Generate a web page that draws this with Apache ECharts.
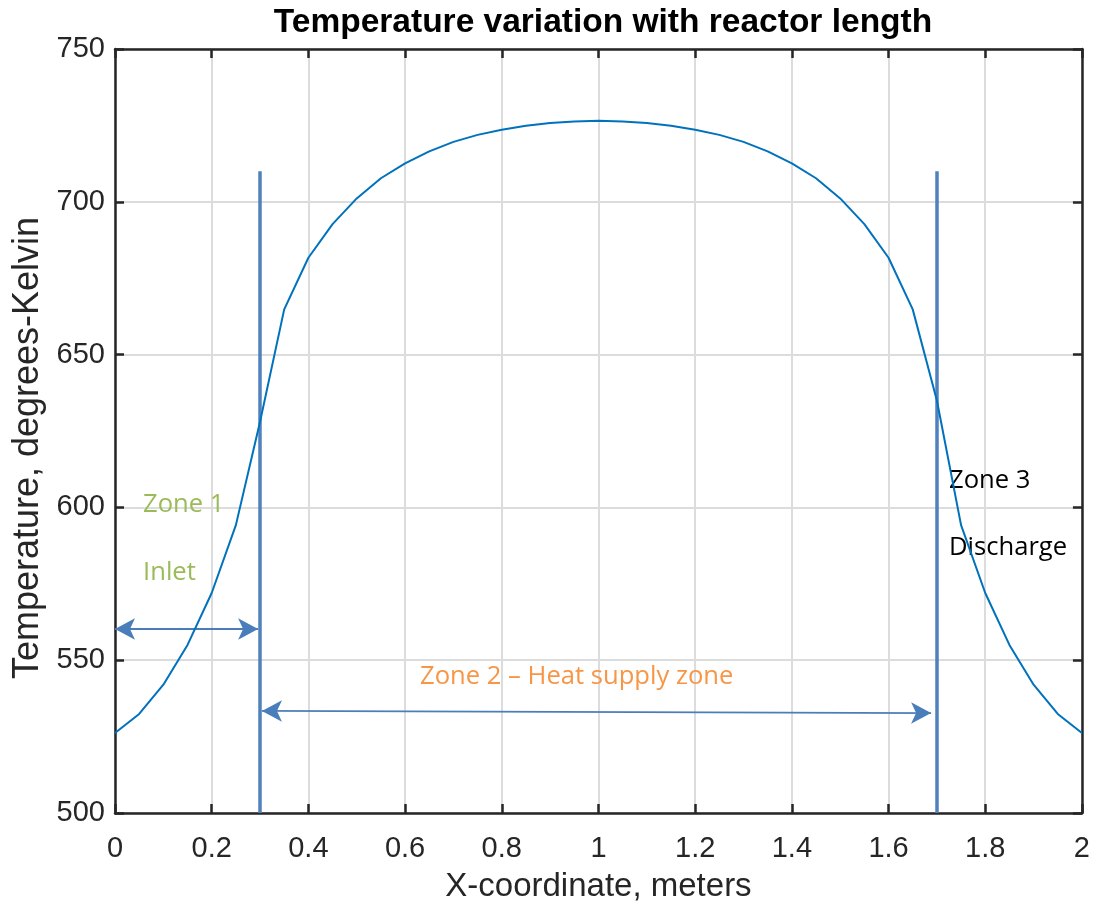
<!DOCTYPE html>
<html>
<head>
<meta charset="utf-8">
<script src="https://cdn.jsdelivr.net/npm/echarts@6/dist/echarts.min.js"></script>
<style>
html,body{margin:0;padding:0;background:#fff;}
#chart{width:1093px;height:908px;}
</style>
</head>
<body>
<div id="chart"></div>
<script>
// ---- data ----
const xValues = [0,0.05,0.1,0.15,0.2,0.25,0.3,0.35,0.4,0.45,0.5,0.55,0.6,0.65,0.7,0.75,0.8,0.85,0.9,0.95,1.0,
  1.05,1.1,1.15,1.2,1.25,1.3,1.35,1.4,1.45,1.5,1.55,1.6,1.65,1.7,1.75,1.8,1.85,1.9,1.95,2.0];
const temperature = [526.2,532.4,542.0,555.0,572.0,594.2,628.0,664.8,681.7,692.7,701.1,707.7,712.6,716.5,719.6,721.9,723.6,724.9,725.8,726.3,726.5,
  726.3,725.8,724.9,723.6,721.9,719.6,716.5,712.6,707.7,701.1,692.7,681.7,664.8,635.0,594.2,572.0,555.0,542.0,532.4,526.2];
const xTicks = [0,0.2,0.4,0.6,0.8,1,1.2,1.4,1.6,1.8,2];
const yTicks = [500,550,600,650,700,750];
// zone boundaries [x, yBottom, yTop]
const zoneBoundaries = [[0.3,500,710],[1.7,500,710]];
// arrows [x1,y1,x2,y2]
const zoneArrows = [[0,560.2,0.296,560.2],[0.304,533.4,1.688,532.7],[1.704,569.0,2.003,569.0]];
// annotations [text, x, y, colour]
const zoneTexts = [
  ['Zone 1',0.058,600.8,'#9bbb59'],
  ['Inlet',0.058,578.5,'#9bbb59'],
  ['Zone 2 \u2013 Heat supply zone',0.631,544.5,'#f79646'],
  ['Zone 3',1.725,608.6,'#000000'],
  ['Discharge',1.725,586.7,'#000000']
];

const chart = echarts.init(document.getElementById('chart'), null, {renderer:'canvas'});
const sans = '"Liberation Sans", Arial, Helvetica, sans-serif';
const axisColor = '#262626';
const fmtX = v => String(Math.round(v*10)/10);

const series = [{
  type:'line',
  data: xValues.map((x,i)=>[x,temperature[i]]),
  showSymbol:false,
  symbol:'none',
  lineStyle:{color:'#0072bd',width:2},
  z:5,
  markLine:{
    silent:true, animation:false,
    symbol:['none','none'],
    label:{show:false},
    lineStyle:{color:'#4f81bd',width:3.5,type:'solid'},
    data: zoneBoundaries.map(b=>[{coord:[b[0],b[1]]},{coord:[b[0],b[2]]}])
  },
  markPoint:{
    silent:true, animation:false,
    symbol:'circle', symbolSize:0,
    data: zoneTexts.map(t=>({coord:[t[1],t[2]],value:t[0],
      label:{show:true,position:'right',distance:0,formatter:t[0],color:t[3],
        fontFamily:'"Open Sans", sans-serif',fontSize:25.6}}))
  }
},{
  type:'line',
  data:[],
  markLine:{
    silent:true, animation:false,
    symbol:['arrow','arrow'],
    symbolSize:[16,20],
    label:{show:false},
    lineStyle:{color:'#4a7ebb',width:1.8,type:'solid'},
    data: zoneArrows.map(a=>[{coord:[a[0],a[1]]},{coord:[a[2],a[3]]}])
  }
}];

chart.setOption({
  animation:false,
  backgroundColor:'#ffffff',
  title:{
    text:'Temperature variation with reactor length',
    left:598, top:1, textAlign:'center',
    textStyle:{fontFamily:sans,fontWeight:'bold',fontSize:33.5,color:'#000'}
  },
  grid:{left:115,right:11,top:49,bottom:95,containLabel:false},
  xAxis:[{
    type:'value', min:0, max:2, interval:0.2,
    name:'X-coordinate, meters', nameLocation:'middle', nameGap:57,
    nameTextStyle:{fontFamily:sans,fontSize:33,color:'#262626'},
    axisLine:{show:true,onZero:false,lineStyle:{color:axisColor,width:2.5}},
    axisTick:{show:true,inside:true,length:9,lineStyle:{color:axisColor,width:2.5}},
    axisLabel:{formatter:fmtX,fontFamily:sans,fontSize:29,color:'#262626',margin:21},
    splitLine:{show:true,lineStyle:{color:'#dcdcdc',width:2}}
  },{
    type:'value', min:0, max:2, interval:0.2, position:'top',
    axisLine:{show:true,onZero:false,lineStyle:{color:axisColor,width:2.5}},
    axisTick:{show:true,inside:true,length:9,lineStyle:{color:axisColor,width:2.5}},
    axisLabel:{show:false}, splitLine:{show:false}
  }],
  yAxis:[{
    type:'value', min:500, max:750, interval:50,
    name:'Temperature, degrees-Kelvin', nameLocation:'middle', nameGap:66,
    nameTextStyle:{fontFamily:sans,fontSize:36,color:'#262626',padding:[0,34,0,0]},
    axisLine:{show:true,onZero:false,lineStyle:{color:axisColor,width:2.5}},
    axisTick:{show:true,inside:true,length:9,lineStyle:{color:axisColor,width:2.5}},
    axisLabel:{fontFamily:sans,fontSize:29,color:'#262626',margin:10},
    splitLine:{show:true,lineStyle:{color:'#dcdcdc',width:2}}
  },{
    type:'value', min:500, max:750, interval:50, position:'right',
    axisLine:{show:true,onZero:false,lineStyle:{color:axisColor,width:2.5}},
    axisTick:{show:true,inside:true,length:9,lineStyle:{color:axisColor,width:2.5}},
    axisLabel:{show:false}, splitLine:{show:false}
  }],
  series: series
});
</script>
</body>
</html>
